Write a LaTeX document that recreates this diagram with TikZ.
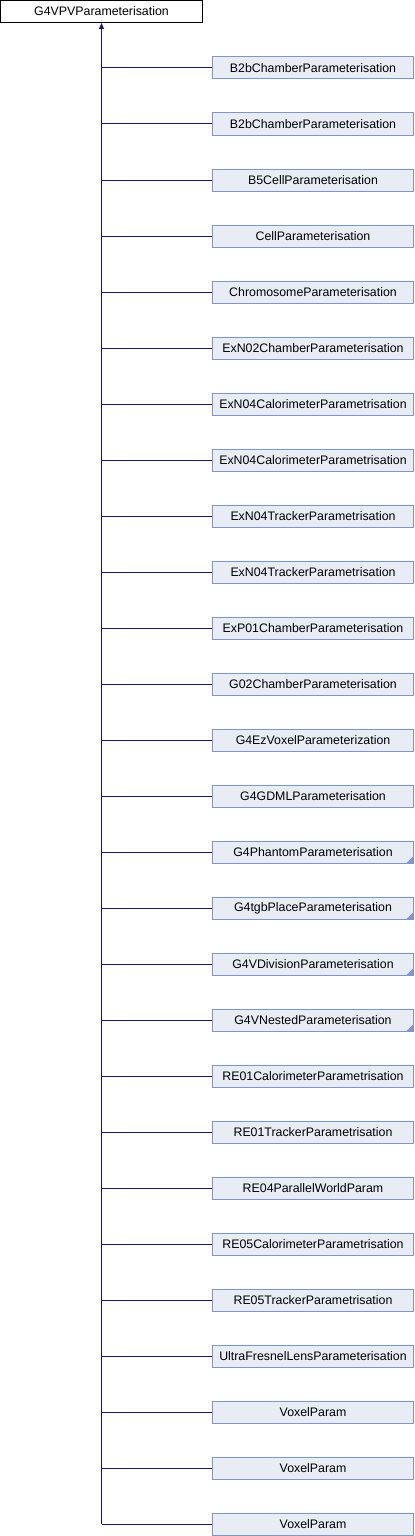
\documentclass[tikz,border=0pt]{standalone}
\usepackage{fontspec}
\setmainfont{Liberation Sans}
\usetikzlibrary{arrows.meta}
\definecolor{edgeblue}{RGB}{25,25,112}
\definecolor{boxfill}{RGB}{232,236,245}
\definecolor{boxline}{RGB}{128,150,200}

\tikzset{
  cls/.style={draw=boxline, fill=boxfill, line width=1bp, minimum width=201bp,
    minimum height=22bp, inner sep=0pt, font=\fontsize{12.4}{14}\selectfont},
  base/.style={cls, draw=black, fill=white, minimum width=202bp},
  leaf/.style={},
  more/.style={path picture={\fill[boxline] (path picture bounding box.south east)
    -- ++(-7bp,0) -- ++(7bp,7bp) -- cycle;}},
  edge/.style={draw=edgeblue, line width=1bp},
}

\begin{document}
\begin{tikzpicture}[x=1bp, y=1bp]
  \useasboundingbox (0,0) rectangle (414,-1536);
  % base class
  \node[base] (root) at (101.5,-11.5) {G4VPVParameterisation};
  % derived classes, one row every 56
  \foreach \name/\sty [count=\i] in {
      B2bChamberParameterisation/leaf,
      B2bChamberParameterisation/leaf,
      B5CellParameterisation/leaf,
      CellParameterisation/leaf,
      ChromosomeParameterisation/leaf,
      ExN02ChamberParameterisation/leaf,
      ExN04CalorimeterParametrisation/leaf,
      ExN04CalorimeterParametrisation/leaf,
      ExN04TrackerParametrisation/leaf,
      ExN04TrackerParametrisation/leaf,
      ExP01ChamberParameterisation/leaf,
      G02ChamberParameterisation/leaf,
      G4EzVoxelParameterization/leaf,
      G4GDMLParameterisation/leaf,
      G4PhantomParameterisation/more,
      G4tgbPlaceParameterisation/more,
      G4VDivisionParameterisation/more,
      G4VNestedParameterisation/more,
      RE01CalorimeterParametrisation/leaf,
      RE01TrackerParametrisation/leaf,
      RE04ParallelWorldParam/leaf,
      RE05CalorimeterParametrisation/leaf,
      RE05TrackerParametrisation/leaf,
      UltraFresnelLensParameterisation/leaf,
      VoxelParam/leaf,
      VoxelParam/leaf,
      VoxelParam/leaf} {
    \node[cls, \sty] (c\i) at (313,{-68-56*(\i-1)}) {\name};
    \draw[edge] (root.south |- c\i.west) -- (c\i.west);
  }
  % shared trunk with the inheritance arrow
  \draw[edge, -{Triangle[width=5bp,length=6bp]}] (root.south |- c27.west) -- (root.south);
\end{tikzpicture}
\end{document}
